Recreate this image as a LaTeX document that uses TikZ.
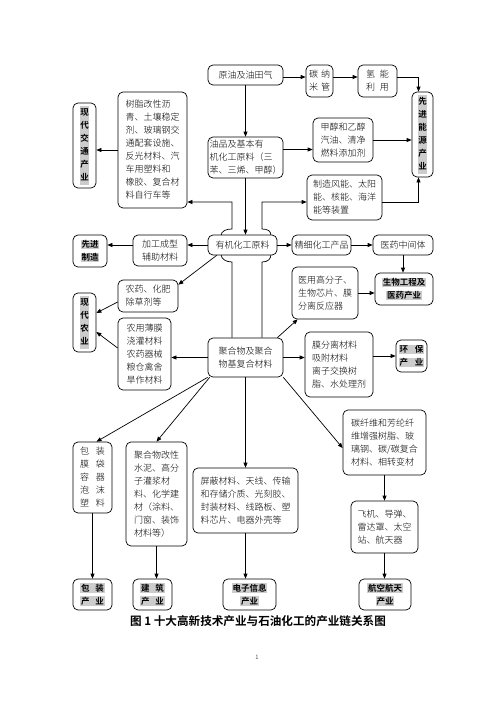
\documentclass[tikz,border=0pt]{standalone}
\usepackage{fontspec}
\setmainfont{Noto Sans CJK SC Light}[BoldFont={Noto Sans CJK SC Bold}]
\usetikzlibrary{arrows.meta,positioning,backgrounds}
\definecolor{hlgray}{gray}{0.8}
\newcommand{\hl}[1]{{\setlength{\fboxsep}{0.6pt}\colorbox{hlgray}{#1}}}
\newcommand{\vhl}[1]{{\setlength{\fboxsep}{0.6pt}\colorbox{hlgray}{\begin{tabular}{@{}c@{}}#1\end{tabular}}}}
\tikzset{
    every node/.style={font=\fontsize{9}{13}\selectfont},
    box/.style={draw, line width=0.7pt, rounded corners=5pt, fill=white,
      inner sep=1pt, align=left},
    ind/.style={box, align=center, font=\fontsize{8.5}{13}\selectfont\bfseries},
    sz/.style 2 args={minimum width=#1pt, minimum height=#2pt},
    arr/.style={-{Triangle[length=5pt,width=4pt]}, line width=0.7pt}
}
\begin{document}
\begin{tikzpicture}[x=1pt, y=-1pt]
  \useasboundingbox (0,0) rectangle (496,702);
  % upper part
  \node[box, sz={75}{20}, align=center] (yuanyou) at (245.5,75) {原油及油田气};
  \node[box, sz={27}{32}, align=center] (tanna) at (319.5,81) {碳\hspace{3pt}纳\\米\hspace{3pt}管};
  \node[box, sz={39}{32}, align=center] (qing) at (377.5,81) {氢\hspace{5pt}能\\利\hspace{5pt}用};
  \node[ind, sz={21}{85}] (xnengy) at (422.5,134.5) {\vhl{先\\进\\能\\源\\产\\业}};
  \node[box, sz={75}{41}] (youpin) at (245.5,157.5) {油品及基本有\\机化工原料（三\\苯、三烯、甲醇）};
  \node[box, sz={60}{44}] (jiachun) at (343,140) {甲醇和乙醇\\汽油、清净\\燃料添加剂};
  \node[box, sz={75}{45}] (fengneng) at (344.5,197.5) {制造风能、太阳\\能、核能、海洋\\能等装置};
  \node[box, sz={69}{116}] (shuzhi) at (152.5,150) {树脂改性沥\\青、土壤稳定\\剂、玻璃钢交\\通配套设施、\\反光材料、汽\\车用塑料和\\橡胶、复合材\\料自行车等};
  \node[ind, sz={23}{85}] (jiaotong) at (84.5,145.5) {\vhl{现\\代\\交\\通\\产\\业}};
  % middle part
  \node[box, sz={69}{20}, align=center] (youji) at (242.5,245) {有机化工原料};
  \node[box, sz={54}{31}] (jiagong) at (160,250.5) {加工成型\\辅助材料};
  \node[ind, sz={34}{32}] (xzhizao) at (90,251) {\hl{先进}\\\hl{制造}};
  \node[box, sz={59}{20}, align=center] (jingxi) at (321.5,245) {精细化工产品};
  \node[box, sz={60}{20}, align=center] (yiyao) at (403,245) {医药中间体};
  \node[ind, sz={58}{32}] (shengwu) at (404,289) {\hl{生物工程及}\\\hl{医药产业}};
  \node[box, sz={66}{52}] (yiyong) at (325,293) {医用高分子、\\生物芯片、膜\\分离反应器};
  \node[box, sz={60}{32}] (nongyao) at (148,296) {农药、化肥\\除草剂等};
  \node[ind, sz={23}{59}] (nongye) at (84.5,322.5) {\vhl{现\\代\\农\\业}};
  \node[box, sz={53}{72}] (nongyong) at (144.5,354) {农用薄膜\\浇灌材料\\农药器械\\粮仓禽舍\\旱作材料};
  \node[box, sz={75}{39}] (juhe) at (245.5,357.5) {聚合物及聚合\\物基复合材料};
  \node[box, sz={68}{65}] (mofen) at (339,364.5) {膜分离材料\\吸附材料\\离子交换树\\脂、水处理剂};
  \node[ind, sz={31}{32}] (huanbao) at (411.5,356) {\hl{环\hspace{7pt}保}\\\hl{产\hspace{7pt}业}};
  % lower part
  \node[box, sz={39}{71}, align=center] (baozhuang) at (92.5,477.5) {包\hspace{7pt}装\\膜\hspace{7pt}袋\\容\hspace{7pt}器\\泡\hspace{7pt}沫\\塑\hspace{7pt}料};
  \node[box, sz={61}{104}] (gaixing) at (156.5,494) {聚合物改性\\水泥、高分\\子灌浆材\\料、化学建\\材（涂料、\\门窗、装饰\\材料等）};
  \node[box, sz={105}{65}] (pingbi) at (245.5,500.5) {屏蔽材料、天线、传输\\和存储介质、光刻胶、\\封装材料、线路板、塑\\料芯片、电器外壳等};
  \node[box, sz={83}{65}] (tanxian) at (384.5,442.5) {碳纤维和芳纶纤\\维增强树脂、玻\\璃钢、碳/碳复合\\材料、相转变材};
  \node[box, sz={67}{52}] (feiji) at (384.5,527) {飞机、导弹、\\雷达罩、太空\\站、航天器};
  \node[ind, sz={52}{31}] (hangkong) at (385,594.5) {\hl{航空航天}\\\hl{产业}};
  \node[ind, sz={39}{31}] (bzcy) at (92.5,594.5) {\hl{包\hspace{6pt}装}\\\hl{产\hspace{6pt}业}};
  \node[ind, sz={39}{31}] (jianzhu) at (152.5,594.5) {\hl{建\hspace{6pt}筑}\\\hl{产\hspace{6pt}业}};
  \node[ind, sz={53}{31}] (dianzi) at (249.5,594.5) {\hl{电子信息}\\\hl{产业}};
  \node[font=\fontsize{11.6}{14}\selectfont\bfseries] (caption) at (258,621) {图 1 十大高新技术产业与石油化工的产业链关系图};
  \node[font=\fontsize{6}{7}\selectfont] (pnum) at (257,657) {1};

  % connectors
  \coordinate (lsplit) at (232,202);
  \coordinate (rsplit) at (262,202);
  \begin{pgfonlayer}{background}
    \draw[arr] ([xshift=-13.5pt]juhe.north) -- (232,262)
      .. controls (226,262) and (221,259) .. (221,254) -- (221,236)
      .. controls (221,231) and (226,229) .. (232,229) -- (lsplit) -- (lsplit -| shuzhi.east);
    \draw[arr] ([xshift=16.5pt]juhe.north) -- (262,262)
      .. controls (268,262) and (271,259) .. (271,254) -- (271,236)
      .. controls (271,231) and (268,229) .. (262,229) -- (rsplit) -- (rsplit -| fengneng.west);
  \end{pgfonlayer}

  \foreach \a/\b in {yuanyou/youpin, youpin/youji, yiyao/shengwu, juhe/pingbi,
    tanxian/feiji, feiji/hangkong, baozhuang/bzcy, gaixing/jianzhu, pingbi/dianzi}
    \draw[arr] (\a.south) -- (\a.south |- \b.north);

  \draw[arr] ([yshift=-2pt]yuanyou.east) -- ([yshift=-2pt]yuanyou.east -| tanna.west);
  \draw[arr] ([yshift=-2pt]tanna.east |- yuanyou.east) -- ([yshift=-2pt]qing.west |- yuanyou.east);
  \draw[arr] ([yshift=-2pt]qing.east |- yuanyou.east) -| ([xshift=-4pt]xnengy.north);
  \draw[arr] ([yshift=8pt]youpin.east) -- ([yshift=8pt]youpin.east -| jiachun.west);
  \draw[arr] (jiachun.east) -- (jiachun.east -| xnengy.west);
  \draw[arr] ([yshift=-5pt]fengneng.east) -| ([xshift=-4pt]xnengy.south);
  \draw[arr] (shuzhi.west) -- (shuzhi.west -| jiaotong.east);

  \draw[arr] (youji.west) -- (youji.west -| jiagong.east);
  \draw[arr] (jiagong.west |- youji.west) -- (xzhizao.east |- youji.west);
  \draw[arr] (youji.east) -- (jingxi.west);
  \draw[arr] (jingxi.east) -- (yiyao.west);
  \draw[arr] (yiyong.east) -- (yiyong.east -| shengwu.west);
  \draw[arr] ([xshift=9pt]youji.south west) -- ([yshift=-5pt]nongyao.north east);
  \draw[arr] ([yshift=-6pt]nongyao.west) -- ([yshift=9.5pt]nongye.east);
  \draw[arr] ([yshift=6pt]nongyong.west) -- ([yshift=-9.5pt]nongye.east);
  \draw[arr] (juhe.west) -- (juhe.west -| nongyong.east);
  \draw[arr] (juhe.east) -- (juhe.east -| mofen.west);
  \draw[arr] (huanbao.west -| mofen.east) -- (huanbao.west);
  \draw[arr] ([xshift=-6pt]juhe.north east) -- ([xshift=6pt]yiyong.south west);
  \draw[arr] (juhe.south west) -- ([xshift=4pt]baozhuang.north);
  \draw[arr] ([xshift=2pt]juhe.south west) -- (gaixing.north);
  \draw[arr] (juhe.south east) -- ([yshift=-5.5pt]tanxian.west);
\end{tikzpicture}
\end{document}
